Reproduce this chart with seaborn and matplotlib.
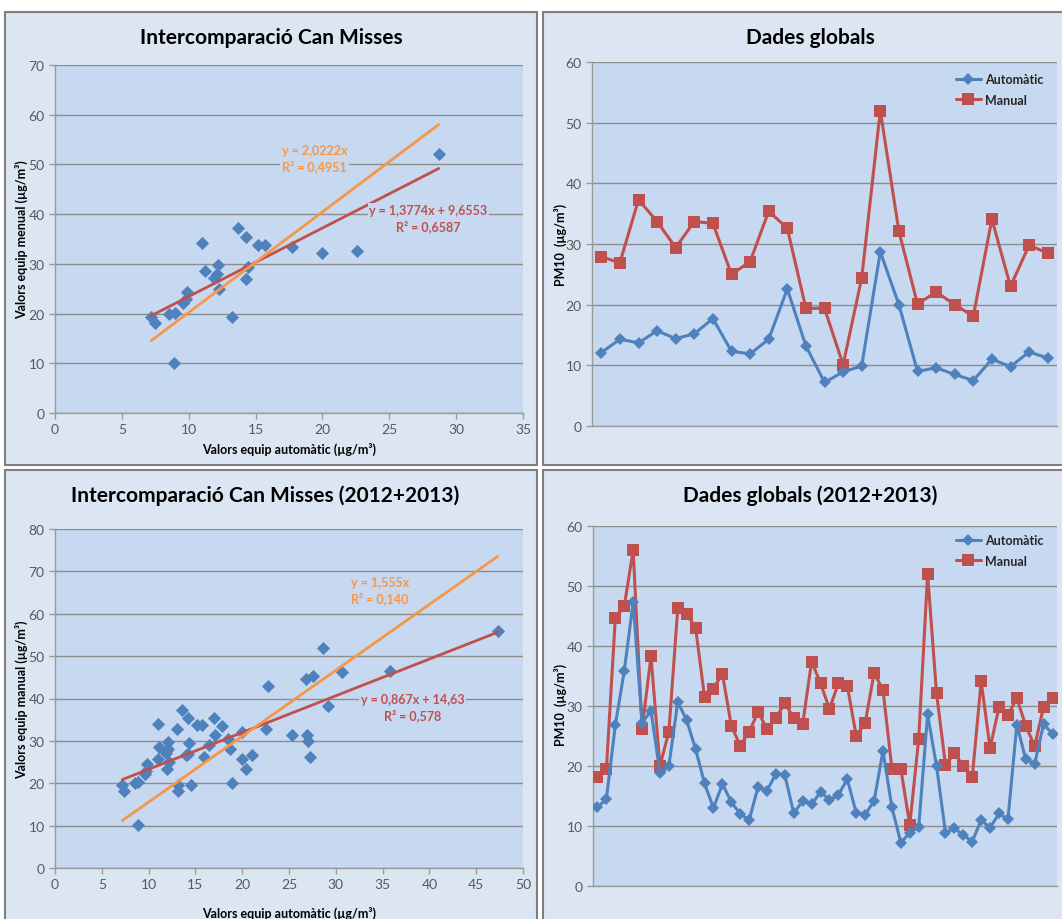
import numpy as np
import pandas as pd
import matplotlib
matplotlib.use("Agg")
import matplotlib.pyplot as plt
from matplotlib.patches import Rectangle
import seaborn as sns

# ---------------- data ----------------
# Dades globals (top) : 25 samples
auto_top = [12.1, 14.3, 13.7, 15.7, 14.4, 15.2, 17.7, 12.3, 11.9, 14.3, 22.6, 13.2, 7.2,
            8.9, 9.9, 28.7, 20.0, 9.0, 9.6, 8.5, 7.5, 11.0, 9.8, 12.2, 11.2]
manual_top = [27.9, 26.9, 37.3, 33.7, 29.4, 33.7, 33.4, 25.0, 27.1, 35.4, 32.6, 19.4, 19.4,
              10.1, 24.4, 52.0, 32.1, 20.1, 22.1, 20.0, 18.1, 34.1, 23.0, 29.8, 28.5]

# Dades globals (2012+2013) : 52 samples
auto_all = [13.1, 14.5, 26.8, 35.8, 47.3, 27.2, 29.2, 18.9, 20.0, 30.7, 27.6, 22.8, 17.1,
            13.0, 17.0, 14.0, 12.0, 11.0, 16.5, 15.9, 18.7, 18.5, 12.1, 14.2, 13.6, 15.7,
            14.3, 15.2, 17.8, 12.2, 11.9, 14.2, 22.5, 13.1, 7.2, 8.9, 9.8, 28.6, 20.0, 8.9,
            9.6, 8.5, 7.4, 11.0, 9.7, 12.1, 11.1, 26.9, 21.1, 20.4, 27.0, 25.3]
manual_all = [18.2, 19.5, 44.6, 46.6, 56.0, 26.2, 38.3, 20.0, 25.7, 46.3, 45.4, 43.0, 31.5,
              32.9, 35.4, 26.7, 23.4, 25.7, 29.0, 26.2, 28.0, 30.5, 28.0, 27.0, 37.4, 33.8,
              29.5, 33.8, 33.4, 25.0, 27.1, 35.5, 32.7, 19.5, 19.5, 10.2, 24.5, 52.0, 32.1,
              20.2, 22.1, 20.0, 18.1, 34.1, 23.0, 29.8, 28.5, 31.3, 26.7, 23.3, 29.9, 31.3]

# trendline coefficients (as printed on the chart)
fit_lin_top = (1.3774, 9.6553)
fit_orig_top = 2.0222
fit_lin_all = (0.867, 14.63)
fit_orig_all = 1.555
txt_orig_top = "y = 2,0222x\nR² = 0,4951"
txt_lin_top = "y = 1,3774x + 9,6553\nR² = 0,6587"
txt_orig_all = "y = 1,555x\nR² = 0,140"
txt_lin_all = "y = 0,867x + 14,63\nR² = 0,578"

titles = ["Intercomparació Can Misses", "Dades globals",
          "Intercomparació Can Misses (2012+2013)", "Dades globals (2012+2013)"]
series_names = ["Automàtic", "Manual"]

# ---------------- style ----------------
sns.set_theme(style="white")
plt.rcParams['font.family'] = ['Lato', 'DejaVu Sans']

BLUE = "#4F81BD"
RED = "#C0504D"
ORANGE = "#F79646"
PLOT_BG = "#C6D9F0"
PANEL_BG = "#DCE6F2"
GRID = "#8C8C8C"
TICK = "#595959"

W, H = 1062, 920
fig = plt.figure(figsize=(W / 100, H / 100), dpi=100)
fig.patch.set_facecolor("white")


def px_rect(x0, y0, x1, y1):
    return [x0 / W, 1 - y1 / H, (x1 - x0) / W, (y1 - y0) / H]


# panel backgrounds
for (x0, y0, x1, y1) in [(5, 13, 537, 466), (543, 13, 1075, 466),
                         (5, 471, 537, 930), (543, 471, 1075, 930)]:
    r = px_rect(x0, y0, x1, y1)
    fig.patches.append(Rectangle((r[0], r[1]), r[2], r[3], transform=fig.transFigure,
                                 facecolor=PANEL_BG, edgecolor="#7F7F7F", lw=1.5, zorder=-5))


def style_axes(ax, ymax, ystep):
    ax.set_facecolor(PLOT_BG)
    ax.set_ylim(0, ymax)
    ax.set_yticks(np.arange(0, ymax + 0.1, ystep))
    ax.yaxis.grid(True, color=GRID, lw=1)
    ax.set_axisbelow(True)
    for s in ["top", "right"]:
        ax.spines[s].set_visible(False)
    for s in ["left", "bottom"]:
        ax.spines[s].set_color("#9A9A9A")
        ax.spines[s].set_linewidth(1)
    ax.tick_params(axis="both", colors="#9A9A9A", labelcolor=TICK, labelsize=10,
                   length=4, width=1, direction="out", left=True, bottom=True)
    ax.set_xlabel("")
    ax.set_ylabel("")


def scatter_panel(rect, xs, ys, xmax, ymax, fit_lin, fit_orig, t_orig, t_lin,
                  pos_orig, pos_lin, ylabel, title, title_xy, xlabel_y, ylabel_y):
    ax = fig.add_axes(px_rect(*rect))
    ax.set_zorder(2)
    df = pd.DataFrame({"auto": xs, "manual": ys})
    sns.scatterplot(data=df, x="auto", y="manual", marker="D", s=45, color=BLUE,
                    edgecolor=BLUE, linewidth=0, ax=ax, zorder=3)
    xr = np.array([min(xs), max(xs)])
    sns.lineplot(x=xr, y=fit_lin[0] * xr + fit_lin[1], color=RED, lw=2, ax=ax, zorder=4)
    sns.lineplot(x=xr, y=fit_orig * xr, color=ORANGE, lw=2, ax=ax, zorder=4)
    style_axes(ax, ymax, 10)
    ax.set_xlim(0, xmax)
    ax.set_xticks(np.arange(0, xmax + 0.1, 5))
    ax.text(*pos_orig, t_orig, color=ORANGE, fontsize=9, fontweight="bold",
            ha="center", va="center", linespacing=1.3, zorder=5,
            bbox=dict(facecolor=PLOT_BG, edgecolor="none", pad=1))
    ax.text(*pos_lin, t_lin, color=RED, fontsize=9, fontweight="bold",
            ha="center", va="center", linespacing=1.3, zorder=5,
            bbox=dict(facecolor=PLOT_BG, edgecolor="none", pad=1))
    fig.text(title_xy[0] / W, 1 - title_xy[1] / H, title, fontsize=15, fontweight="bold",
             ha="center", va="center", color="black")
    fig.text(289 / W, 1 - xlabel_y / H, "Valors equip automàtic (µg/m³)", fontsize=9,
             fontweight="bold", ha="center", va="center", color="black")
    fig.text(22 / W, 1 - ylabel_y / H, ylabel, fontsize=9, fontweight="bold",
             ha="center", va="center", rotation=90, color="black")
    return ax


def line_panel(rect, auto, manual, title, title_xy, ylabel_y, leg_top):
    ax = fig.add_axes(px_rect(*rect))
    ax.set_zorder(2)
    n = len(auto)
    df = pd.DataFrame({"idx": np.arange(n), "auto": auto, "manual": manual})
    sns.lineplot(data=df, x="idx", y="auto", color=BLUE, lw=2.2, marker="D",
                 markersize=6.5, markeredgewidth=0, label=series_names[0], ax=ax, zorder=4)
    sns.lineplot(data=df, x="idx", y="manual", color=RED, lw=2.2, marker="s",
                 markersize=9, markeredgewidth=0, label=series_names[1], ax=ax, zorder=3)
    style_axes(ax, 60, 10)
    ax.set_xlim(-0.5, n - 0.5)
    ax.set_xticks([])
    ax.tick_params(axis="x", length=0)
    h, l = ax.get_legend_handles_labels()
    leg = ax.legend(h, l, loc="upper right", frameon=False, fontsize=9,
                    handlelength=2.0, handletextpad=0.3, labelspacing=0.7,
                    borderaxespad=0.0,
                    bbox_to_anchor=(1 - 14 / 465, leg_top), borderpad=0.0)
    for t in leg.get_texts():
        t.set_fontweight("bold")
    fig.text(title_xy[0] / W, 1 - title_xy[1] / H, title, fontsize=15, fontweight="bold",
             ha="center", va="center", color="black")
    fig.text(560 / W, 1 - ylabel_y / H, "PM10  (µg/m³)", fontsize=9, fontweight="bold",
             ha="center", va="center", rotation=90, color="black")
    return ax


scatter_panel((55, 66, 523, 414), auto_top, manual_top, 35, 70,
              fit_lin_top, fit_orig_top, txt_orig_top, txt_lin_top,
              (19.4, 51.3), (27.9, 39.2),
              "Valors equip menual (µg/m³)", titles[0], (271, 38), 449, 240)

line_panel((592, 63, 1057, 427), auto_top, manual_top, titles[1], (810, 38), 245,
           1 - 11 / 364)

scatter_panel((55, 530, 523, 869), auto_all, manual_all, 50, 80,
              fit_lin_all, fit_orig_all, txt_orig_all, txt_lin_all,
              (34.7, 65.5), (38.2, 38.0),
              "Valors equip manual (µg/m³)", titles[2], (265, 496), 913, 700)

line_panel((593, 527, 1057, 887), auto_all, manual_all, titles[3], (810, 496), 705,
           1 - 8 / 360)

fig.savefig("out.png", dpi=100)
